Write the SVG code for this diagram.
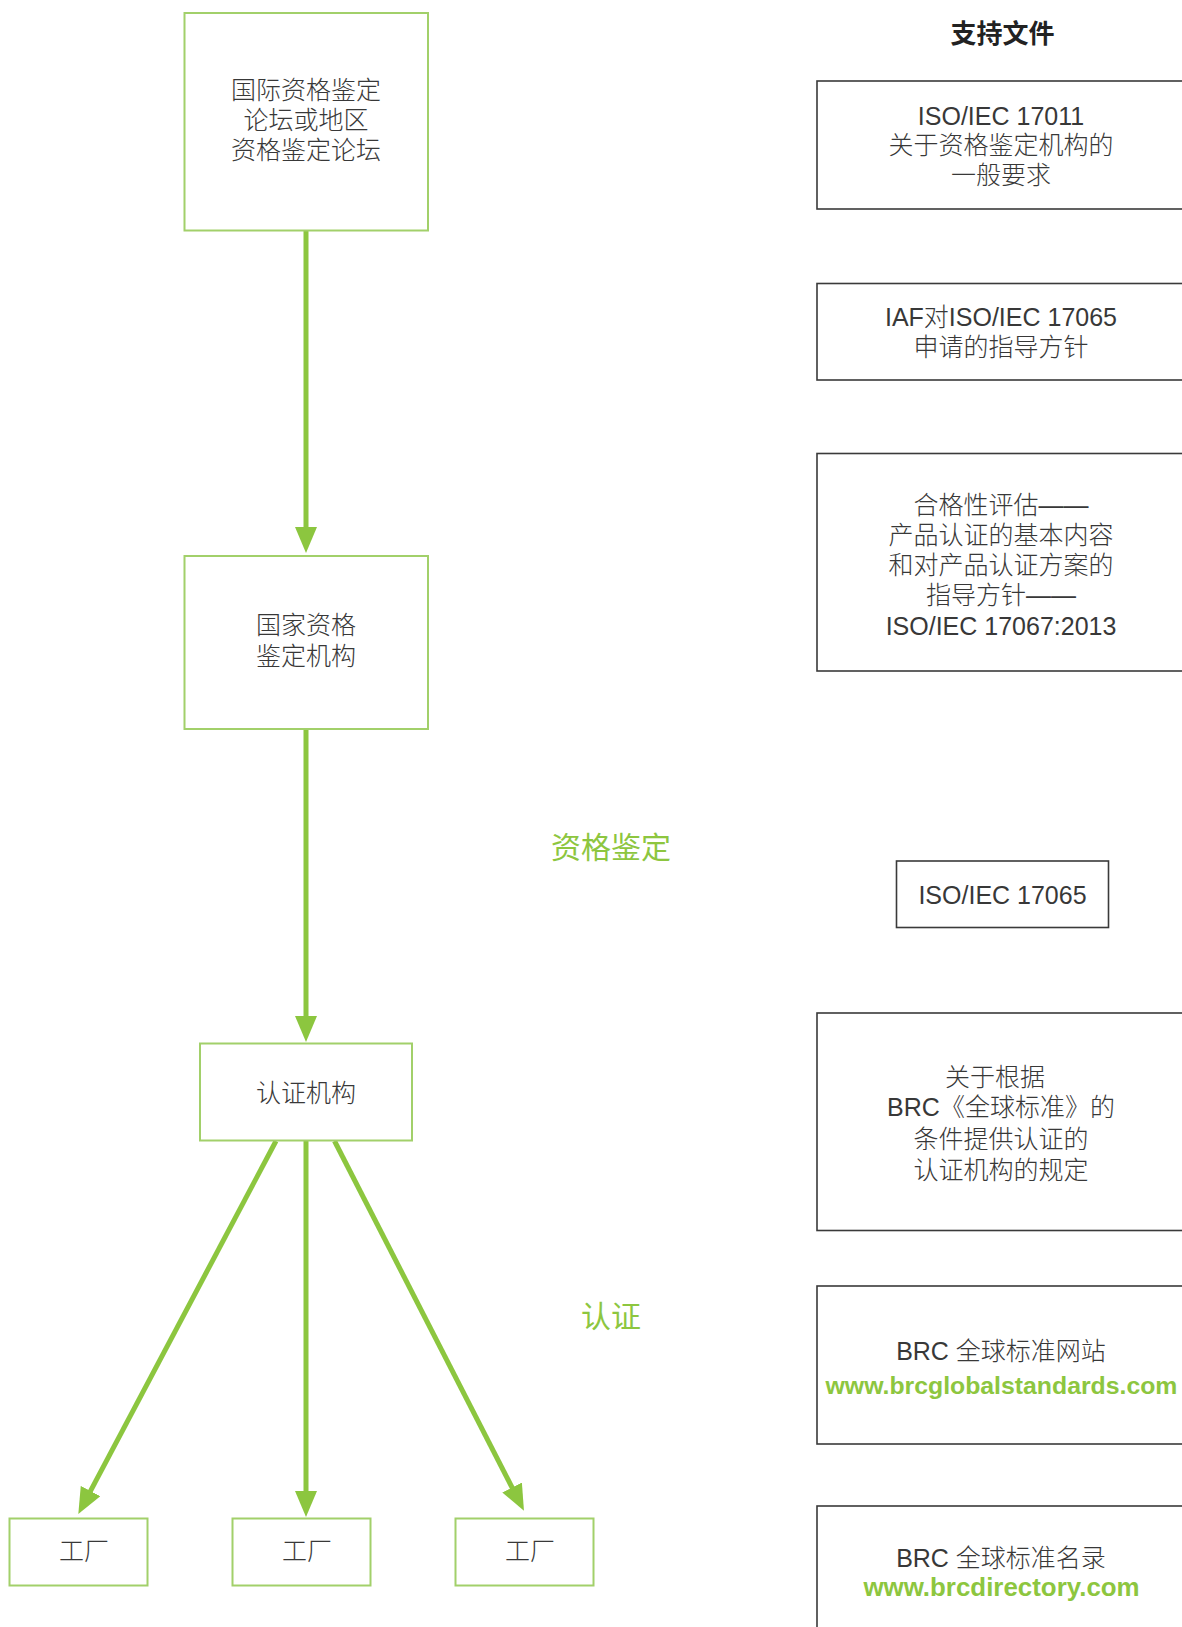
<svg xmlns="http://www.w3.org/2000/svg" width="1182" height="1627" viewBox="0 0 1182 1627">
<defs>
<style>
.gbox{fill:#fff;stroke:#a2d06a;stroke-width:2}
.kbox{fill:#fff;stroke:#3a3a3a;stroke-width:1.6}
.t{font-family:"Liberation Sans","Noto Sans CJK SC",sans-serif;font-size:25px;fill:#383838;text-anchor:middle;font-weight:300}
.hd{font-family:"Noto Sans CJK SC",sans-serif;font-size:26px;font-weight:bold;fill:#222;text-anchor:middle}
.lbl{font-family:"Noto Sans CJK SC",sans-serif;font-size:30px;fill:#8dc63f;text-anchor:middle}
.url{font-family:"Liberation Sans",Arial,sans-serif;font-size:24.8px;font-weight:bold;fill:#8dc63f;text-anchor:middle}
.conn{stroke:#8cc63f;stroke-width:5;fill:none}
</style>
<marker id="ah" markerUnits="userSpaceOnUse" markerWidth="26" markerHeight="22" viewBox="0 0 26 22" refX="16" refY="11" orient="auto">
<path d="M0,0 L26,11 L0,22 Z" fill="#8cc63f"/>
</marker>
</defs>
<rect width="1182" height="1627" fill="#fff"/>

<g id="connectors">
<line class="conn" x1="306" y1="231" x2="306" y2="543" marker-end="url(#ah)"/>
<line class="conn" x1="306" y1="729" x2="306" y2="1032" marker-end="url(#ah)"/>
<line class="conn" x1="306" y1="1141" x2="306" y2="1507" marker-end="url(#ah)"/>
<line class="conn" x1="276" y1="1141" x2="83" y2="1505.2" marker-end="url(#ah)"/>
<line class="conn" x1="334.5" y1="1141" x2="519.4" y2="1501.8" marker-end="url(#ah)"/>
</g>

<g id="n-iaf">
<rect class="gbox" x="184.5" y="13" width="243.5" height="217.5"/>
<text class="t" x="306" y="99">国际资格鉴定</text>
<text class="t" x="306" y="129">论坛或地区</text>
<text class="t" x="306" y="159">资格鉴定论坛</text>
</g>

<g id="n-nab">
<rect class="gbox" x="184.5" y="556" width="243.5" height="173"/>
<text class="t" x="306" y="634">国家资格</text>
<text class="t" x="306" y="664.5">鉴定机构</text>
</g>

<g id="n-cb">
<rect class="gbox" x="200" y="1043.5" width="212" height="97"/>
<text class="t" x="306" y="1101.5">认证机构</text>
</g>

<g id="n-f1">
<rect class="gbox" x="9.5" y="1518.5" width="138" height="67"/>
<text class="t" x="84" y="1560">工厂</text>
</g>
<g id="n-f2">
<rect class="gbox" x="232.5" y="1518.5" width="138" height="67"/>
<text class="t" x="307" y="1560">工厂</text>
</g>
<g id="n-f3">
<rect class="gbox" x="455.5" y="1518.5" width="138" height="67"/>
<text class="t" x="530" y="1560">工厂</text>
</g>

<g id="labels">
<text class="lbl" x="611" y="857.5">资格鉴定</text>
<text class="lbl" x="611" y="1326.5">认证</text>
<text class="hd" x="1002.5" y="43">支持文件</text>
</g>

<g id="d-17011">
<rect class="kbox" x="817" y="81" width="380" height="128"/>
<text class="t" x="1001" y="125">ISO/IEC 17011</text>
<text class="t" x="1001" y="153.5">关于资格鉴定机构的</text>
<text class="t" x="1001" y="184">一般要求</text>
</g>

<g id="d-iaf">
<rect class="kbox" x="817" y="283.5" width="380" height="96.5"/>
<text class="t" x="1001" y="325.5">IAF对ISO/IEC 17065</text>
<text class="t" x="1001" y="356">申请的指导方针</text>
</g>

<g id="d-17067">
<rect class="kbox" x="817" y="453.5" width="380" height="217.5"/>
<text class="t" x="1001" y="513.5">合格性评估——</text>
<text class="t" x="1001" y="543.5">产品认证的基本内容</text>
<text class="t" x="1001" y="573.5">和对产品认证方案的</text>
<text class="t" x="1001" y="604">指导方针——</text>
<text class="t" x="1001" y="635">ISO/IEC 17067:2013</text>
</g>

<g id="d-17065">
<rect class="kbox" x="896.5" y="861" width="212" height="66.5"/>
<text class="t" x="1002.5" y="904">ISO/IEC 17065</text>
</g>

<g id="d-brc-req">
<rect class="kbox" x="817" y="1013" width="380" height="217.5"/>
<text class="t" x="995" y="1085.5">关于根据</text>
<text class="t" x="1001" y="1116">BRC《全球标准》的</text>
<text class="t" x="1001" y="1147.5">条件提供认证的</text>
<text class="t" x="1001" y="1178.5">认证机构的规定</text>
</g>

<g id="d-brc-web">
<rect class="kbox" x="817" y="1286" width="380" height="158"/>
<text class="t" x="1001" y="1359.5">BRC 全球标准网站</text>
<text class="url" x="1001.5" y="1394">www.brcglobalstandards.com</text>
</g>

<g id="d-brc-dir">
<rect class="kbox" x="817" y="1506" width="380" height="140"/>
<text class="t" x="1001" y="1566.5">BRC 全球标准名录</text>
<text class="url" x="1001.5" y="1596" style="font-size:25.9px">www.brcdirectory.com</text>
</g>
</svg>
